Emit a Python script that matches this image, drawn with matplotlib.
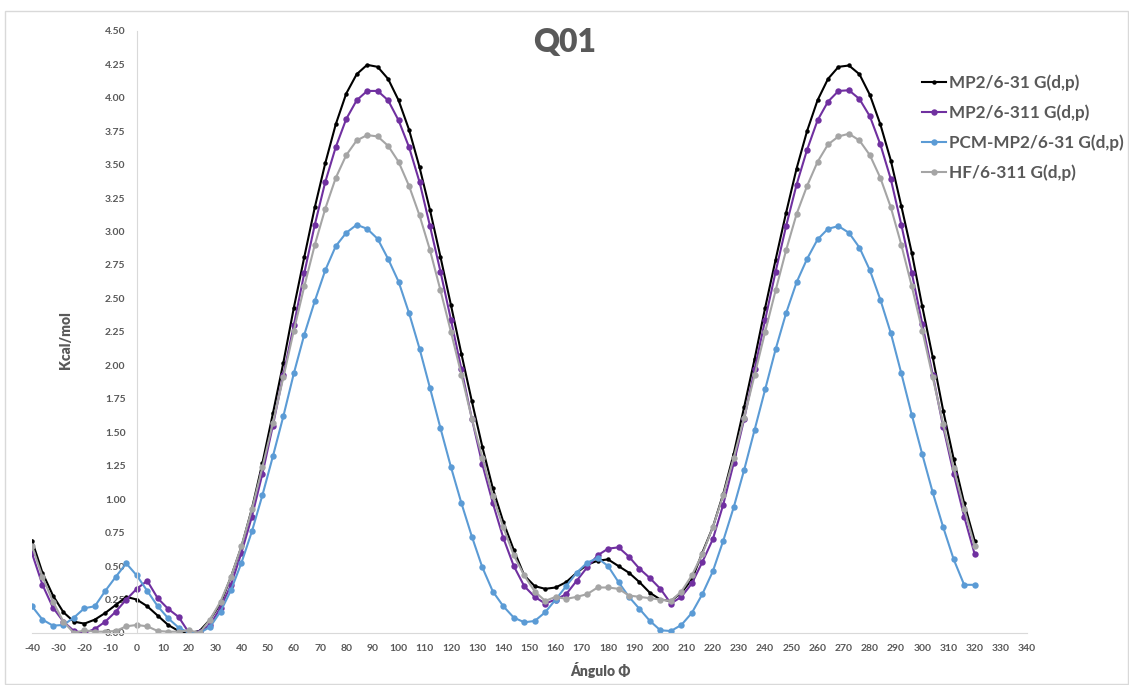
import matplotlib
matplotlib.use("Agg")
import matplotlib.pyplot as plt
import numpy as np
from matplotlib.patches import Rectangle

angles = list(range(-40, 321, 4))

mp2_631 = [0.69, 0.45, 0.28, 0.155, 0.085, 0.07, 0.10, 0.15, 0.21, 0.27,
           0.25, 0.20, 0.13, 0.06, 0.015, 0.0, 0.015, 0.10, 0.22, 0.42,
           0.645, 0.93, 1.27, 1.64, 2.02, 2.43, 2.81, 3.18, 3.51, 3.80,
           4.03, 4.175, 4.245, 4.23, 4.14, 3.98, 3.76, 3.48, 3.16, 2.81,
           2.45, 2.085, 1.73, 1.39, 1.08, 0.83, 0.62, 0.43, 0.35, 0.33,
           0.34, 0.38, 0.45, 0.51, 0.54, 0.55, 0.50, 0.45, 0.38, 0.30,
           0.25, 0.24, 0.30, 0.40, 0.60, 0.79, 1.04, 1.34, 1.69, 2.05,
           2.43, 2.79, 3.14, 3.47, 3.75, 3.98, 4.14, 4.23, 4.24, 4.175,
           4.02, 3.80, 3.53, 3.19, 2.84, 2.44, 2.06, 1.66, 1.30, 0.97,
           0.69]

mp2_6311 = [0.595, 0.36, 0.19, 0.085, 0.015, 0.0, 0.03, 0.085, 0.16, 0.25,
            0.33, 0.39, 0.26, 0.18, 0.12, 0.0, 0.01, 0.06, 0.19, 0.36,
            0.60, 0.87, 1.19, 1.55, 1.93, 2.30, 2.69, 3.05, 3.37, 3.63,
            3.84, 3.98, 4.05, 4.05, 3.98, 3.83, 3.63, 3.37, 3.04, 2.70,
            2.34, 1.97, 1.60, 1.26, 0.97, 0.71, 0.50, 0.35, 0.27, 0.22,
            0.25, 0.29, 0.39, 0.49, 0.58, 0.63, 0.64, 0.57, 0.48, 0.41,
            0.33, 0.22, 0.27, 0.37, 0.53, 0.70, 0.96, 1.27, 1.60, 1.97,
            2.34, 2.70, 3.04, 3.35, 3.61, 3.83, 3.97, 4.05, 4.055, 3.99,
            3.86, 3.65, 3.39, 3.05, 2.69, 2.31, 1.93, 1.54, 1.19, 0.87,
            0.59]

pcm_mp2 = [0.20, 0.10, 0.055, 0.06, 0.115, 0.185, 0.20, 0.315, 0.42, 0.52,
           0.43, 0.315, 0.20, 0.11, 0.04, 0.0, 0.0, 0.045, 0.16, 0.32,
           0.525, 0.76, 1.03, 1.32, 1.62, 1.94, 2.23, 2.48, 2.71, 2.89,
           2.99, 3.05, 3.02, 2.945, 2.795, 2.625, 2.39, 2.125, 1.83, 1.53,
           1.24, 0.97, 0.72, 0.49, 0.31, 0.20, 0.115, 0.08, 0.09, 0.155,
           0.25, 0.35, 0.45, 0.525, 0.56, 0.50, 0.38, 0.27, 0.18, 0.09,
           0.02, 0.015, 0.06, 0.15, 0.29, 0.46, 0.69, 0.94, 1.22, 1.52,
           1.82, 2.12, 2.39, 2.62, 2.795, 2.94, 3.02, 3.04, 2.99, 2.88,
           2.71, 2.49, 2.24, 1.94, 1.63, 1.335, 1.05, 0.79, 0.55, 0.36,
           0.36]

hf_6311 = [0.65, 0.42, 0.235, 0.085, 0.0, 0.02, 0.01, 0.01, 0.015, 0.05,
           0.06, 0.05, 0.015, 0.01, 0.01, 0.02, 0.0, 0.10, 0.235, 0.42,
           0.65, 0.925, 1.24, 1.57, 1.91, 2.26, 2.59, 2.90, 3.17, 3.40,
           3.57, 3.68, 3.72, 3.71, 3.64, 3.52, 3.34, 3.12, 2.86, 2.56,
           2.25, 1.93, 1.60, 1.31, 1.02, 0.79, 0.58, 0.43, 0.31, 0.24,
           0.27, 0.255, 0.27, 0.29, 0.34, 0.34, 0.33, 0.28, 0.27, 0.26,
           0.25, 0.24, 0.31, 0.43, 0.59, 0.79, 1.03, 1.31, 1.61, 1.93,
           2.25, 2.56, 2.86, 3.13, 3.34, 3.52, 3.65, 3.71, 3.73, 3.68,
           3.57, 3.40, 3.18, 2.90, 2.59, 2.26, 1.91, 1.56, 1.23, 0.93,
           0.65]

series_labels = ["MP2/6-31 G(d,p)", "MP2/6-311 G(d,p)",
                 "PCM-MP2/6-31 G(d,p)", "HF/6-311 G(d,p)"]
x_ticks = list(range(-40, 341, 10))
y_ticks = [i * 0.25 for i in range(19)]

colors = ["#000000", "#7030A0", "#5B9BD5", "#A5A5A5"]
msizes = [3.2, 4.6, 4.6, 4.6]
txt = "#595959"
font = "Lato"

fig = plt.figure(figsize=(11.29, 6.85), dpi=100)
fig.patch.set_facecolor("white")
fig.patches.append(Rectangle((5 / 1129, 0.002), 1 - 6 / 1129, 1 - 12 / 685,
                             transform=fig.transFigure, fill=False,
                             edgecolor="#D9D9D9", linewidth=1.0))

ax = fig.add_axes([32 / 1129, 52 / 685, (1027 - 32) / 1129, (633 - 30.7) / 685])
for vals, lab, c, ms in zip([mp2_631, mp2_6311, pcm_mp2, hf_6311],
                            series_labels, colors, msizes):
    ax.plot(angles, vals, color=c, lw=1.5, marker="o", ms=ms,
            markeredgewidth=0, label=lab)

ax.set_xlim(-40, 340)
ax.set_ylim(0, 4.5)
ax.set_xticks(x_ticks)
ax.set_xticklabels([str(v) for v in x_ticks])
ax.set_yticks(y_ticks)
ax.set_yticklabels([f"{v:.2f}" for v in y_ticks])
for s in ["top", "right"]:
    ax.spines[s].set_visible(False)
ax.spines["left"].set_position(("data", 0))
ax.spines["left"].set_color("#D9D9D9")
ax.spines["bottom"].set_color("#D9D9D9")
ax.tick_params(axis="both", length=0, colors=txt, labelsize=7.5)
ax.tick_params(axis="y", pad=8)
ax.tick_params(axis="x", pad=8)
for t in ax.get_xticklabels() + ax.get_yticklabels():
    t.set_fontfamily(font)
    t.set_fontweight("bold")
    t.set_color(txt)

fig.text(565 / 1129, (685 - 42) / 685, "Q01", ha="center", va="center",
         fontsize=23, fontweight="heavy", color=txt, family=font)
fig.text(65 / 1129, (685 - 340) / 685, "Kcal/mol", rotation=90,
         ha="center", va="center", fontsize=10, fontweight="heavy",
         color=txt, family=font)
fig.text(600 / 1129, (685 - 670) / 685, "Ángulo Φ", ha="center",
         va="center", fontsize=10, fontweight="heavy", color=txt,
         family=["Lato", "DejaVu Sans"])

leg = ax.legend(loc="upper left", bbox_to_anchor=(922 / 1129, (685 - 74) / 685),
                bbox_transform=fig.transFigure, frameon=False,
                prop={"family": font, "weight": "bold", "size": 12.3},
                handlelength=1.4, handletextpad=0.2, labelspacing=0.8,
                borderpad=0, borderaxespad=0)
for t in leg.get_texts():
    t.set_color(txt)

fig.savefig("out.png", dpi=100, facecolor="white")
